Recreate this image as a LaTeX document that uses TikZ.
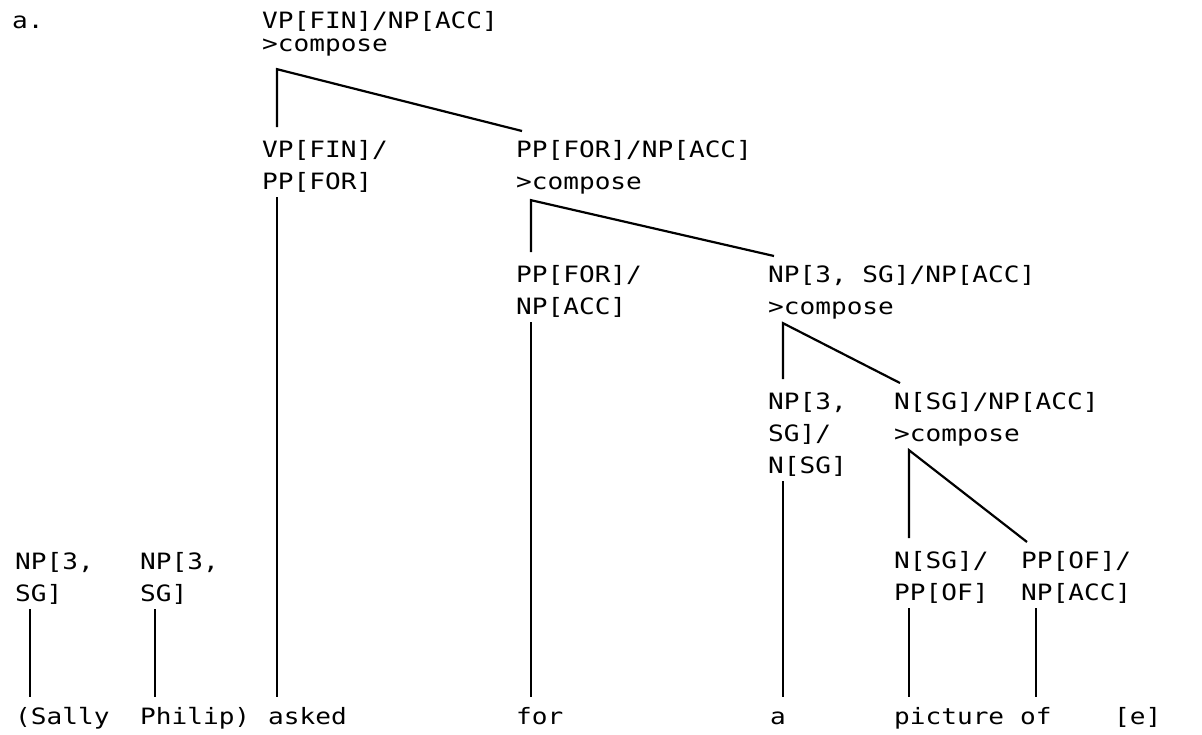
\documentclass[tikz,border=0pt]{standalone}
\usepackage{fontspec}
\newfontfamily\typer[FakeStretch=1.16]{DejaVu Sans Mono}
\usetikzlibrary{calc}

\begin{document}
\begin{tikzpicture}[
  x=1pt, y=-1pt,
  cat/.style={anchor=north west, inner sep=0pt, align=left, font=\typer\fontsize{22.5}{32}\selectfont},
  word/.style={anchor=base west, inner sep=0pt, text height=17pt, text depth=5pt, font=\typer\fontsize{22.5}{32}\selectfont},
  tie/.style={line width=2.2pt, draw=black},
]
\path[fill=white] (0,0) rectangle (1202,734);

% ------------------------------------------------------------------ categories
\node[word] (lbl) at (12,28) {a.};
\node[cat, font=\typer\fontsize{22.5}{23}\selectfont] (n1) at (262,11) {VP[FIN]/NP[ACC]\\>compose};

\node[cat] (n2a) at (262,140) {VP[FIN]/\\PP[FOR]};
\node[cat] (n2b) at (516,140) {PP[FOR]/NP[ACC]\\>compose};

\node[cat] (n3a) at (516,265) {PP[FOR]/\\NP[ACC]};
\node[cat] (n3b) at (768,265) {NP[3, SG]/NP[ACC]\\>compose};

\node[cat] (n4a) at (768,392) {NP[3,\\SG]/\\N[SG]};
\node[cat] (n4b) at (894,392) {N[SG]/NP[ACC]\\>compose};

\node[cat] (s1) at (15,552) {NP[3,\\SG]};
\node[cat] (s2) at (140,552) {NP[3,\\SG]};
\node[cat] (n5a) at (894,551) {N[SG]/\\PP[OF]};
\node[cat] (n5b) at (1021,551) {PP[OF]/\\NP[ACC]};

% ------------------------------------------------------------------ words
\node[word] (w1) at (15,724) {(Sally};
\node[word] (w2) at (140,724) {Philip)};
\node[word] (w3) at (268,724) {asked};
\node[word] (w4) at (516,724) {for};
\node[word] (w5) at (770,724) {a};
\node[word] (w6) at (894,724) {picture};
\node[word] (w7) at (1020,724) {of};
\node[word] (w8) at (1114,724) {[e]};

% ------------------------------------------------------------------ composition forks
\foreach \p/\l/\r/\g in {n1/n2a/n2b/13, n2b/n3a/n3b/6, n3b/n4a/n4b/4, n4b/n5a/n5b/4} {
  \coordinate (v) at ([xshift=15pt,yshift=-\g pt]\p.south west);
  \draw[tie] ($(\l.north west -| v)+(0,13pt)$) -- (v) -- ([xshift=6pt,yshift=9pt]\r.north west);
}

% ------------------------------------------------------------------ lines down to the words
\foreach \c/\w in {s1/w1, s2/w2, n2a/w3, n3a/w4, n4a/w5, n5a/w6, n5b/w7}
  \draw[tie, shorten >=10pt] ([xshift=15pt,yshift=-5pt]\c.south west) coordinate (t) -- (t |- \w.north);
\end{tikzpicture}
\end{document}
